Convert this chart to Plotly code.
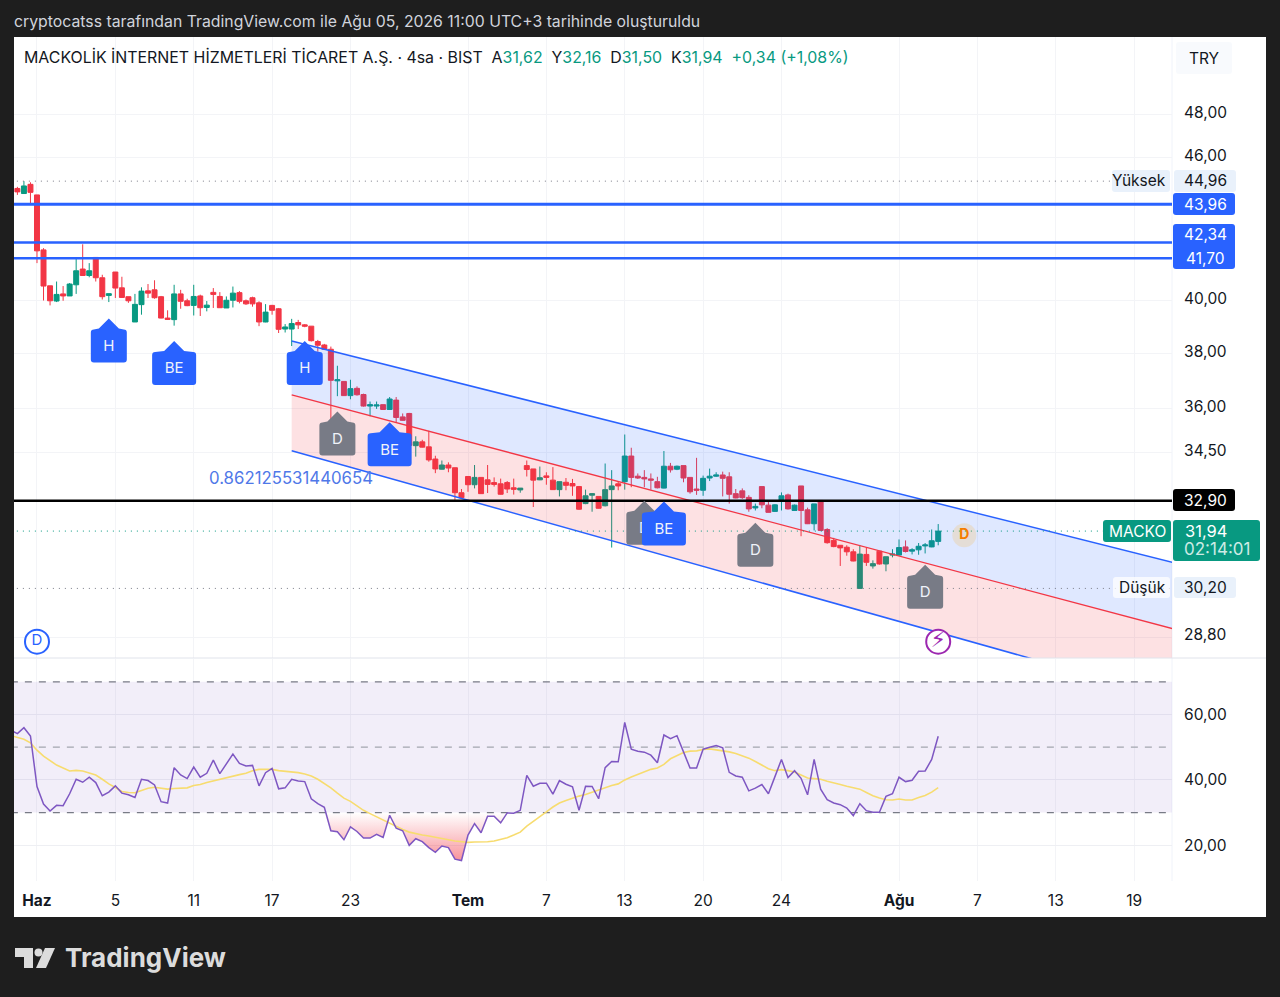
import numpy as np
import plotly.graph_objects as go

# Candles, one per 4h bar, bar index -3 to 138
opens = [44.64, 44.42, 44.82, 44.36, 42.04, 40.59, 39.99, 40.27, 40.19, 40.63,
         41.26, 41.00, 41.73, 40.91, 40.21, 41.14, 40.51, 40.16, 39.18, 39.85,
         40.39, 40.43, 40.16, 39.33, 39.27, 40.27, 40.00, 39.82, 40.19, 39.74,
         40.33, 40.17, 39.72, 40.02, 40.32, 40.00, 40.12, 39.92, 39.18, 39.82,
         39.69, 38.91, 38.91, 39.16, 39.07, 39.02, 38.44, 38.31, 38.15, 36.99,
         36.97, 36.46, 36.72, 36.50, 36.09, 36.09, 36.14, 35.97, 36.30, 35.71,
         35.83, 34.72, 34.85, 34.68, 34.27, 33.93, 34.07, 33.98, 33.16, 33.69,
         33.42, 33.66, 33.58, 33.49, 33.45, 33.49, 33.32, 33.25, 34.05, 33.94,
         33.58, 33.71, 33.57, 33.26, 33.50, 33.46, 33.36, 32.81, 33.08, 33.04,
         32.74, 33.26, 33.45, 33.52, 34.37, 33.70, 33.66, 33.61, 33.52, 33.31,
         34.03, 33.93, 34.05, 33.66, 33.28, 33.24, 33.64, 33.70, 33.74, 33.68,
         33.13, 33.22, 33.01, 32.67, 33.36, 32.76, 32.56, 32.91, 33.09, 32.59,
         33.38, 32.61, 32.17, 32.91, 31.99, 31.65, 31.50, 31.44, 31.30, 30.20,
         31.22, 30.87, 31.32, 30.93, 31.20, 31.20, 31.45, 31.32, 31.36, 31.48,
         31.45, 31.62]
highs = [44.71, 44.96, 44.91, 44.36, 42.11, 40.59, 40.76, 40.58, 40.70, 41.70,
         42.27, 41.50, 41.73, 41.03, 40.28, 41.14, 40.95, 40.16, 40.27, 40.53,
         40.66, 40.81, 40.19, 39.63, 40.63, 40.43, 40.08, 40.63, 40.24, 39.99,
         40.50, 40.34, 40.17, 40.56, 40.38, 40.05, 40.16, 39.98, 39.87, 39.84,
         39.72, 39.10, 39.30, 39.26, 39.10, 39.02, 38.50, 38.35, 38.25, 37.54,
         36.97, 37.03, 36.79, 36.53, 36.25, 36.25, 36.14, 36.41, 36.41, 35.83,
         35.85, 35.04, 34.92, 35.23, 34.38, 34.22, 34.16, 33.98, 33.28, 33.69,
         34.07, 33.66, 34.07, 33.66, 33.62, 33.54, 33.62, 33.31, 34.22, 33.94,
         34.02, 33.83, 34.00, 33.52, 33.64, 33.61, 33.38, 33.26, 33.15, 33.04,
         34.12, 33.90, 33.53, 35.10, 34.65, 33.79, 33.90, 33.79, 33.68, 34.54,
         34.14, 34.05, 34.05, 33.66, 34.31, 33.72, 33.95, 33.83, 33.85, 33.83,
         33.28, 33.30, 33.08, 32.81, 33.36, 32.86, 32.79, 33.17, 33.13, 32.78,
         33.38, 32.68, 32.80, 32.91, 32.03, 31.73, 31.50, 31.50, 31.38, 31.51,
         31.43, 31.04, 31.32, 31.15, 31.38, 31.68, 31.65, 31.41, 31.57, 31.57,
         31.99, 32.16]
lows = [44.36, 44.40, 43.96, 41.50, 40.01, 39.82, 39.95, 40.00, 40.19, 40.27,
        41.00, 40.93, 40.76, 40.05, 39.95, 40.11, 40.11, 39.92, 39.18, 39.46,
        40.11, 40.08, 39.32, 39.27, 39.04, 39.69, 39.79, 39.43, 39.41, 39.59,
        39.72, 39.72, 39.72, 39.74, 39.90, 39.84, 39.77, 39.02, 39.17, 39.46,
        38.76, 38.78, 38.27, 38.91, 38.98, 38.44, 38.06, 38.12, 35.63, 36.44,
        36.45, 36.33, 36.46, 36.07, 35.73, 35.99, 35.97, 35.97, 35.52, 35.58,
        34.71, 34.35, 34.66, 34.18, 33.80, 33.92, 33.83, 32.93, 32.98, 33.19,
        33.30, 33.13, 33.15, 33.36, 33.10, 33.15, 33.10, 33.16, 33.69, 32.70,
        33.57, 33.42, 33.26, 33.04, 33.24, 33.06, 32.61, 32.79, 32.55, 32.65,
        32.72, 31.43, 33.24, 33.26, 33.34, 33.61, 33.34, 33.26, 33.30, 33.30,
        33.82, 33.90, 33.50, 33.13, 33.09, 33.06, 33.54, 33.68, 33.04, 32.81,
        32.98, 32.96, 32.55, 32.59, 32.66, 32.53, 32.55, 32.59, 32.62, 32.59,
        31.78, 32.16, 31.96, 31.94, 31.55, 31.44, 30.87, 31.18, 31.01, 30.20,
        30.87, 30.79, 30.91, 30.71, 31.13, 31.18, 31.28, 31.22, 31.21, 31.25,
        31.44, 31.50]
closes = [44.49, 44.75, 44.47, 42.00, 40.58, 40.00, 40.25, 40.19, 40.66, 41.19,
          41.00, 41.19, 40.91, 40.16, 40.28, 40.50, 40.13, 40.00, 39.86, 40.38,
          40.30, 40.12, 39.33, 39.28, 40.27, 39.98, 39.81, 40.17, 39.73, 39.83,
          40.25, 39.73, 40.02, 40.30, 39.98, 39.88, 39.88, 39.18, 39.56, 39.63,
          38.90, 38.99, 39.12, 39.07, 39.02, 38.47, 38.30, 38.15, 37.01, 37.03,
          36.46, 36.71, 36.49, 36.09, 36.14, 36.13, 35.97, 36.34, 35.69, 35.59,
          34.73, 34.85, 34.67, 34.24, 33.94, 34.07, 33.97, 33.16, 33.00, 33.42,
          33.66, 33.13, 33.43, 33.43, 33.11, 33.28, 33.27, 33.31, 33.92, 33.57,
          33.65, 33.66, 33.26, 33.52, 33.40, 33.38, 32.63, 33.06, 33.13, 32.66,
          33.26, 33.38, 33.38, 34.37, 33.66, 33.64, 33.61, 33.57, 33.32, 34.03,
          33.91, 34.03, 33.64, 33.19, 33.24, 33.63, 33.70, 33.74, 33.63, 33.11,
          32.99, 33.00, 32.64, 32.72, 32.77, 32.53, 32.77, 33.06, 32.64, 32.76,
          32.59, 32.17, 32.80, 31.96, 31.58, 31.46, 31.42, 31.30, 31.02, 31.23,
          30.98, 30.94, 30.93, 31.15, 31.23, 31.43, 31.31, 31.36, 31.47, 31.51,
          31.64, 31.94]
bar_idx = list(range(-3, 139))

# RSI pane, bar index -4 to 138
rsi_idx = list(range(-4, 139))
rsi_vals = [55.15, 54.14, 55.96, 53.43, 37.98, 32.62, 30.50, 32.22, 32.12, 35.76,
            40.20, 39.29, 40.81, 39.19, 35.15, 36.26, 38.18, 35.96, 35.45, 34.64,
            40.20, 39.80, 38.48, 33.33, 32.93, 43.73, 41.51, 40.40, 43.94, 40.81,
            42.02, 46.06, 41.92, 45.05, 47.88, 45.05, 44.24, 44.44, 38.18, 42.22,
            43.53, 37.27, 37.57, 40.20, 39.70, 39.49, 34.24, 32.73, 31.61, 24.44,
            24.14, 21.71, 25.65, 24.24, 22.22, 22.22, 23.33, 22.42, 29.19, 25.25,
            24.44, 20.00, 22.02, 21.11, 19.29, 17.88, 19.80, 19.29, 15.76, 15.35,
            23.13, 26.66, 23.84, 28.89, 28.89, 26.87, 29.90, 29.80, 30.70, 41.41,
            38.08, 38.99, 38.99, 35.65, 39.80, 38.68, 37.88, 30.70, 38.08, 37.98,
            34.24, 43.73, 45.65, 45.55, 57.57, 49.39, 48.79, 48.48, 47.57, 45.25,
            53.73, 52.62, 53.53, 48.58, 43.63, 43.63, 49.39, 50.00, 50.50, 49.79,
            42.32, 41.21, 40.81, 36.66, 37.47, 38.58, 35.76, 41.01, 46.26, 40.70,
            42.83, 40.50, 35.45, 46.26, 37.17, 33.94, 32.93, 32.42, 31.41, 29.09,
            32.73, 30.60, 30.10, 30.10, 34.95, 35.76, 40.81, 39.49, 39.90, 42.63,
            42.73, 46.26, 53.33]
rsi_ma = [53.53, 53.03, 52.42, 51.31, 49.09, 47.27, 45.86, 44.54, 43.63, 42.72,
          42.93, 42.72, 42.12, 41.51, 40.20, 38.78, 37.67, 36.46, 36.16, 36.06,
          36.77, 37.47, 37.77, 37.47, 37.17, 37.37, 37.47, 37.57, 38.28, 38.58,
          39.19, 39.70, 40.10, 40.81, 41.31, 41.61, 42.02, 42.83, 43.23, 43.23,
          43.23, 42.83, 42.62, 42.52, 42.22, 41.82, 41.21, 40.20, 38.99, 37.57,
          35.96, 34.44, 33.43, 32.12, 30.70, 29.70, 28.68, 27.67, 26.66, 25.86,
          24.85, 24.04, 23.53, 23.13, 22.83, 22.52, 22.12, 21.71, 21.31, 21.01,
          20.91, 21.01, 21.01, 21.11, 21.31, 21.82, 22.32, 23.13, 24.04, 25.86,
          27.27, 28.58, 30.20, 31.72, 32.93, 33.73, 34.44, 35.05, 35.55, 36.26,
          36.87, 37.47, 38.28, 38.78, 40.00, 40.91, 41.71, 42.62, 43.23, 43.63,
          44.74, 46.46, 47.47, 48.38, 48.79, 48.89, 49.29, 49.49, 49.19, 48.99,
          48.58, 48.08, 47.37, 46.66, 45.65, 44.54, 43.43, 42.83, 43.13, 42.83,
          42.42, 41.51, 40.60, 40.40, 40.20, 39.59, 38.99, 38.58, 38.08, 37.67,
          37.17, 36.16, 35.15, 34.44, 33.94, 33.84, 34.14, 33.84, 33.84, 34.64,
          35.25, 36.26, 37.67]

# Regression channel end points (price at first and last bar)
channel_x = [39, 174]
channel_upper = [38.46, 30.97]
channel_mid = [36.49, 29.03]
channel_lower = [34.55, 27.12]

# Axis ticks
price_ticks = [48, 46, 40, 38, 36, 34.5, 28.8]
price_labels = ["48,00", "46,00", "40,00", "38,00", "36,00", "34,50", "28,80"]
rsi_ticks = [60, 40, 20]
rsi_labels = ["60,00", "40,00", "20,00"]
time_ticks = [0, 12, 24, 36, 48, 66, 78, 90, 102, 114, 132, 144, 156, 168]
time_labels = ["<b>Haz</b>", "5", "11", "17", "23", "<b>Tem</b>", "7", "13", "20", "24",
               "<b>Ağu</b>", "7", "13", "19"]

# Pins: bar index, tip price, label, kind
pin_x = [11, 21, 41, 46, 54, 93, 96, 110, 136]
pin_y = [39.31, 38.46, 38.46, 35.90, 35.52, 32.90, 32.88, 32.20, 30.91]
pin_text = ["H", "BE", "H", "D", "BE", "D", "BE", "D", "D"]

BLUE = "#2962ff"
RED = "#f23645"
GREEN = "#089981"
GREY = "#787b86"
TEXT = "#131722"
FONT = "Inter"
DARK = "#1e1e1e"
W, H = 1280, 997


def px(v):
    return v / W


def py(v):
    return 1 - v / H


def rrect(x0, y0, x1, y1, color, r=3, layer="above"):
    # rounded box, given in page pixels
    a, b, c, d = px(x0), py(y0), px(x1), py(y1)
    rx, ry = r / W, r / H
    path = (f"M{a + rx},{b} L{c - rx},{b} Q{c},{b} {c},{b - ry} L{c},{d + ry} Q{c},{d} {c - rx},{d} "
            f"L{a + rx},{d} Q{a},{d} {a},{d + ry} L{a},{b - ry} Q{a},{b} {a + rx},{b} Z")
    return dict(type="path", path=path, xref="paper", yref="paper", fillcolor=color,
                line=dict(width=0), layer=layer)


def label(x, y, text, color=TEXT, size=15.5, xanchor="center"):
    return dict(x=px(x), y=py(y), xref="paper", yref="paper", text=text, showarrow=False,
                xanchor=xanchor, yanchor="middle", font=dict(family=FONT, size=size, color=color))


def pin_path(w):
    # y grows upward in pixel sized shapes, so the body hangs below the tip
    # the empty segment at the end pushes the label down into the body
    h = w / 2
    return (f"M0,0 L10,-10 L{h - 3},-11 Q{h},-11 {h},-14 L{h},-41 Q{h},-44 {h - 3},-44 "
            f"L{3 - h},-44 Q{-h},-44 {-h},-41 L{-h},-14 Q{-h},-11 {3 - h},-11 L-10,-10 Z M0,-54 L0,-54")


fig = go.Figure()

# channel, lower pair first so fills stack right
fig.add_trace(go.Scatter(x=channel_x, y=channel_lower, mode="lines",
                         line=dict(color=BLUE, width=1.5), opacity=0.85))
fig.add_trace(go.Scatter(x=channel_x, y=channel_mid, mode="lines", fill="tonexty",
                         fillcolor="rgba(242,54,69,0.15)", line=dict(color=RED, width=1.3), opacity=0.85))
fig.add_trace(go.Scatter(x=channel_x, y=channel_upper, mode="lines", fill="tonexty",
                         fillcolor="rgba(41,98,255,0.15)", line=dict(color=BLUE, width=1.5), opacity=0.85))

# horizontal levels
x_span = [-4, 174]
for level, color, width, dash in [(44.96, GREY, 1, "1px,5px"), (30.20, GREY, 1, "1px,5px"),
                                  (31.94, GREEN, 1, "1px,5px"), (43.96, BLUE, 3, "solid"),
                                  (42.34, BLUE, 2.5, "solid"), (41.70, BLUE, 2.5, "solid"),
                                  (32.90, "#000000", 2.5, "solid")]:
    fig.add_trace(go.Scatter(x=x_span, y=[level, level], mode="lines",
                             line=dict(color=color, width=width, dash=dash)))

fig.add_trace(go.Candlestick(
    x=bar_idx, open=opens, high=highs, low=lows, close=closes, whiskerwidth=0,
    increasing=dict(line=dict(color=GREEN, width=1), fillcolor=GREEN),
    decreasing=dict(line=dict(color=RED, width=1), fillcolor=RED),
))

# round badges
fig.add_trace(go.Scatter(x=[0], y=[28.67], mode="markers+text", text=["D"], textposition="middle center",
                         marker=dict(size=24, color="white", line=dict(color=BLUE, width=2)),
                         textfont=dict(family=FONT, size=15, color=BLUE), cliponaxis=False))
fig.add_trace(go.Scatter(x=[138], y=[28.67], mode="markers+text", text=["⚡"], textposition="middle center",
                         marker=dict(size=24, color="white", line=dict(color="#9c27b0", width=2)),
                         textfont=dict(family="DejaVu Sans", size=22, color="#9c27b0"), cliponaxis=False))
fig.add_trace(go.Scatter(x=[142], y=[31.81], mode="markers+text", text=["<b>D</b>"], textposition="middle center",
                         marker=dict(size=24, color="rgba(255,170,0,0.16)"),
                         textfont=dict(family=FONT, size=14, color="#f57c00")))

# RSI pane
band_x = [-4, 174]
fig.add_trace(go.Scatter(x=band_x, y=[30, 30], mode="lines", line=dict(width=0), xaxis="x2", yaxis="y2"))
fig.add_trace(go.Scatter(x=band_x, y=[70, 70], mode="lines", line=dict(width=0), fill="tonexty",
                         fillcolor="rgba(126,87,194,0.1)", xaxis="x2", yaxis="y2"))
for level, color in [(70, GREY), (50, "#a3a6af"), (30, GREY)]:
    fig.add_trace(go.Scatter(x=band_x, y=[level, level], mode="lines", xaxis="x2", yaxis="y2",
                             line=dict(color=color, width=1.2, dash="7px,7px")))

# gradient under the 30 line where RSI dips below it
fig.add_trace(go.Scatter(x=rsi_idx, y=[30] * len(rsi_idx), mode="lines", line=dict(width=0),
                         xaxis="x2", yaxis="y2"))
fig.add_trace(go.Scatter(x=rsi_idx, y=np.minimum(rsi_vals, 30), mode="lines", line=dict(width=0),
                         fill="tonexty", xaxis="x2", yaxis="y2",
                         fillgradient=dict(type="vertical", start=30, stop=15,
                                           colorscale=[[0, "rgba(242,54,69,0)"], [1, "rgba(242,54,69,0.55)"]])))
fig.add_trace(go.Scatter(x=rsi_idx, y=rsi_ma, mode="lines", line=dict(color="#f7dc6f", width=1.6),
                         xaxis="x2", yaxis="y2"))
fig.add_trace(go.Scatter(x=rsi_idx, y=rsi_vals, mode="lines", line=dict(color="#7e57c2", width=1.5),
                         xaxis="x2", yaxis="y2"))

shapes = [
    dict(type="rect", xref="paper", yref="paper", x0=px(14), x1=px(1266), y0=py(917), y1=py(37),
         fillcolor="white", line=dict(width=0), layer="below"),
    dict(type="line", xref="paper", yref="paper", x0=px(14), x1=px(1266), y0=py(658), y1=py(658),
         line=dict(color="#e0e3eb", width=1), layer="above"),
    dict(type="line", xref="paper", yref="paper", x0=px(1172), x1=px(1172), y0=py(881), y1=py(37),
         line=dict(color="#f0f3fa", width=1), layer="below"),
]

# pins
pin_colors = {"H": BLUE, "BE": BLUE, "D": GREY}
for x, y, t in zip(pin_x, pin_y, pin_text):
    shapes.append(dict(type="path", xsizemode="pixel", ysizemode="pixel", xref="x", yref="y",
                       xanchor=x, yanchor=y, path=pin_path(44 if t == "BE" else 36),
                       fillcolor=pin_colors[t], line=dict(width=0), layer="above",
                       label=dict(text=t, textposition="middle center",
                                  font=dict(family=FONT, size=15, color="#f0f3fa"))))

# price scale boxes
shapes += [
    rrect(1174, 170, 1236, 192, "#e9f1fb"),
    rrect(1112, 170, 1170, 192, "#e9f1fb"),
    rrect(1173, 193, 1235, 215, BLUE),
    rrect(1173, 224, 1235, 269, BLUE),
    rrect(1173, 489, 1235, 511, "#000000"),
    rrect(1103, 520, 1171, 542, GREEN),
    rrect(1173, 520, 1260, 561, GREEN),
    rrect(1174, 577, 1236, 598, "#e9f1fb"),
    rrect(1113, 577, 1170, 598, "rgba(255,255,255,0.75)"),
    rrect(1176, 42, 1232, 74, "rgba(240,243,250,0.45)"),
]

# logo
shapes += [
    dict(type="path", xref="paper", yref="paper", fillcolor="#dcdcdc", line=dict(width=0),
         path=f"M{px(15)},{py(948)} L{px(33)},{py(948)} L{px(33)},{py(968)} L{px(24)},{py(968)} "
              f"L{px(24)},{py(957)} L{px(15)},{py(957)} Z"),
    dict(type="circle", xref="paper", yref="paper", fillcolor="#dcdcdc", line=dict(width=0),
         x0=px(34.5), x1=px(42.5), y0=py(956.5), y1=py(948.5)),
    dict(type="path", xref="paper", yref="paper", fillcolor="#dcdcdc", line=dict(width=0),
         path=f"M{px(45)},{py(948)} L{px(55)},{py(948)} L{px(46)},{py(968)} L{px(36)},{py(968)} Z"),
]

title_vals = (
    'MACKOLİK İNTERNET HİZMETLERİ TİCARET A.Ş. · 4sa · BIST  '
    f'A<span style="color:{GREEN}">31,62</span>  Y<span style="color:{GREEN}">32,16</span>  '
    f'D<span style="color:{GREEN}">31,50</span>  K<span style="color:{GREEN}">31,94</span>  '
    f'<span style="color:{GREEN}">+0,34 (+1,08%)</span>'
)

annotations = [
    label(12, 21, "cryptocatss tarafından TradingView.com ile Ağu 05, 2026 11:00 UTC+3 tarihinde oluşturuldu",
          color="#d1d4dc", size=15.8, xanchor="left"),
    label(22, 57, title_vals, size=15.9, xanchor="left"),
    label(1204, 58, "TRY", size=15.5),
    label(1139, 181, "Yüksek"),
    label(1205, 181, "44,96"),
    label(1205, 204, "43,96", color="white"),
    label(1205, 235, "42,34", color="white"),
    label(1205, 258, "41,70", color="white"),
    label(1205, 500, "32,90", color="white"),
    label(1137, 531, "MACKO", color="white"),
    label(1206, 531, "31,94", color="white", size=16.5),
    label(1182, 549, "02:14:01", color="#cdebe5", size=17, xanchor="left"),
    label(1142, 587, "Düşük"),
    label(1205, 587, "30,20"),
    label(207, 478, "0.862125531440654", color="#4f78e8", size=16.8, xanchor="left"),
    label(63, 957, "<b>TradingView</b>", color="#dcdcdc", size=26, xanchor="left"),
]

fig.update_layout(
    width=W, height=H,
    margin=dict(l=0, r=0, t=0, b=0),
    paper_bgcolor=DARK,
    plot_bgcolor="rgba(0,0,0,0)",
    showlegend=False,
    hovermode=False,
    boxgap=0.2,
    boxgroupgap=0.05,
    font=dict(family=FONT, size=15.5, color=TEXT),
    shapes=shapes,
    annotations=annotations,
    xaxis=dict(domain=[px(14), px(1172)], range=[-3.52, 173.8], anchor="y", showticklabels=False,
               tickvals=time_ticks, showgrid=True, gridcolor="#f3f4f7", zeroline=False,
               rangeslider=dict(visible=False)),
    yaxis=dict(domain=[py(658), py(37)], type="log", range=list(np.log10([28.215, 51.76])), side="right",
               anchor="x", tickvals=price_ticks, ticktext=price_labels, showgrid=True,
               gridcolor="#f3f4f7", zeroline=False, ticks="outside", ticklen=8,
               tickcolor="rgba(0,0,0,0)", ticklabelshift=-2),
    xaxis2=dict(domain=[px(14), px(1172)], range=[-3.52, 173.8], anchor="y2", tickvals=time_ticks,
                ticktext=time_labels, showgrid=True, gridcolor="#f3f4f7", zeroline=False,
                ticks="outside", ticklen=5, tickcolor="rgba(0,0,0,0)", tickangle=0),
    yaxis2=dict(domain=[py(881), py(659)], range=[9.09, 76.97], side="right", anchor="x2",
                tickvals=rsi_ticks, ticktext=rsi_labels, showgrid=True, gridcolor="#eeeff3",
                zeroline=False, ticks="outside", ticklen=8, tickcolor="rgba(0,0,0,0)"),
)

fig.write_html("out.html", config=dict(displayModeBar=False),
               post_script="document.body.style.margin='0';")
